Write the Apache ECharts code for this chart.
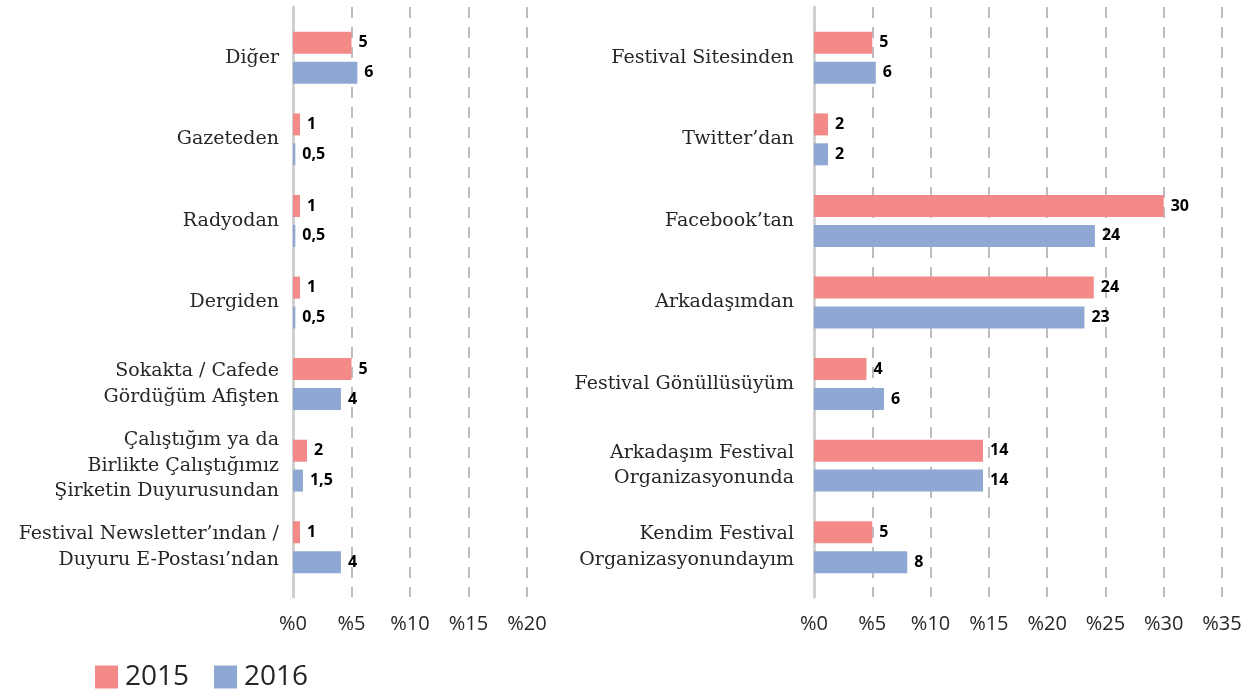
<!DOCTYPE html>
<html>
<head>
<meta charset="utf-8">
<script src="https://cdn.jsdelivr.net/npm/echarts@6/dist/echarts.min.js"></script>
<style>html,body{margin:0;padding:0;background:#fff}#c{width:1258px;height:691px}</style>
</head>
<body>
<div id="c"></div>
<script>
// ---- data (bar lengths as drawn in the picture; printed labels as shown) ----
const leftCategories = ['Diğer', 'Gazeteden', 'Radyodan', 'Dergiden', 'Sokakta / Cafede\nGördüğüm Afişten', 'Çalıştığım ya da\nBirlikte Çalıştığımız\nŞirketin Duyurusundan', 'Festival Newsletter’ından /\nDuyuru E-Postası’ndan'];
const left2015 = [5, 0.6, 0.6, 0.6, 5, 1.2, 0.6];
const left2016 = [5.5, 0.2, 0.2, 0.2, 4.1, 0.85, 4.1];
const left2015Labels = ['5', '1', '1', '1', '5', '2', '1'];
const left2016Labels = ['6', '0,5', '0,5', '0,5', '4', '1,5', '4'];
const rightCategories = ['Festival Sitesinden', 'Twitter’dan', 'Facebook’tan', 'Arkadaşımdan', 'Festival Gönüllüsüyüm', 'Arkadaşım Festival\nOrganizasyonunda', 'Kendim Festival\nOrganizasyonundayım'];
const right2015 = [5, 1.2, 30, 24, 4.5, 14.5, 5];
const right2016 = [5.3, 1.2, 24.1, 23.2, 6, 14.5, 8];
const right2015Labels = ['5', '2', '30', '24', '4', '14', '5'];
const right2016Labels = ['6', '2', '24', '23', '6', '14', '8'];
const seriesNames = ['2015', '2016'];
const leftMax = 20, rightMax = 35, tickStep = 5;

// ---- style ----
const C2015 = '#F48A88', C2016 = '#8FA8D3';
const catFont = '"DejaVu Serif", serif';
const sansFont = '"Open Sans", "Noto Sans", sans-serif';

const chart = echarts.init(document.getElementById('c'), null, {renderer: 'canvas'});

function backdropX(idx, max) {
  return {
    type: 'value', gridIndex: idx, min: 0, max: max, interval: tickStep,
    axisLine: {show: false}, axisTick: {show: false},
    axisLabel: {formatter: v => '%' + v, fontFamily: sansFont, fontSize: 20, color: '#262626', margin: 17},
    splitLine: {show: true, lineStyle: {color: '#BDBDBD', width: 2, type: [11, 9]}}
  };
}
function backdropY(idx) {
  return {
    type: 'value', gridIndex: idx, min: 0, max: 1,
    axisLine: {show: true, lineStyle: {color: '#D0D0D0', width: 3}},
    axisTick: {show: false}, axisLabel: {show: false}, splitLine: {show: false}
  };
}
function barsX(idx, max) {
  return {type: 'value', gridIndex: idx, min: 0, max: max, show: false};
}
function barsY(idx, cats, margin) {
  return {
    type: 'category', gridIndex: idx, data: cats, inverse: true,
    axisLine: {show: false}, axisTick: {show: false}, splitLine: {show: false},
    axisLabel: {fontFamily: catFont, fontSize: 19, color: '#262626', margin: margin, lineHeight: 25.5, align: 'right'}
  };
}
function barSeries(name, data, labels, color, axisIdx) {
  return {
    name: name, type: 'bar', xAxisIndex: axisIdx, yAxisIndex: axisIdx,
    data: data, barWidth: 22, barGap: '36%',
    itemStyle: {color: color},
    label: {show: true, position: 'right', distance: 7, formatter: p => labels[p.dataIndex],
      fontFamily: sansFont, fontWeight: 'bold', fontSize: 16, color: '#000'}
  };
}

chart.setOption({
  animation: false,
  backgroundColor: '#fff',
  grid: [
    {left: 293, width: 234, top: 7, bottom: 94},
    {left: 293, width: 234, top: 17, height: 571},
    {left: 814, width: 408, top: 7, bottom: 94},
    {left: 814, width: 408, top: 17, height: 571}
  ],
  xAxis: [backdropX(0, leftMax), barsX(1, leftMax), backdropX(2, rightMax), barsX(3, rightMax)],
  yAxis: [backdropY(0), barsY(1, leftCategories, 14), backdropY(2), barsY(3, rightCategories, 20)],
  legend: {
    data: seriesNames, left: 95, top: 663, padding: 0, icon: 'rect', itemWidth: 23, itemHeight: 23, itemGap: 25,
    textStyle: {fontFamily: sansFont, fontSize: 28, color: '#262626', padding: [0, 0, 0, 2]}
  },
  series: [
    barSeries(seriesNames[0], left2015, left2015Labels, C2015, 1),
    barSeries(seriesNames[1], left2016, left2016Labels, C2016, 1),
    barSeries(seriesNames[0], right2015, right2015Labels, C2015, 3),
    barSeries(seriesNames[1], right2016, right2016Labels, C2016, 3)
  ]
});
</script>
</body>
</html>
